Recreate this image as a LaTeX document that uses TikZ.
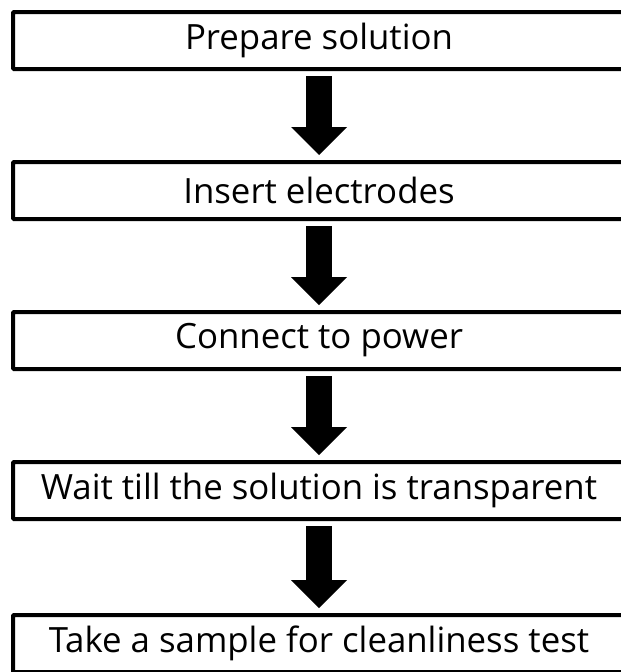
\documentclass[tikz,border=0pt]{standalone}
\usepackage{fontspec}
\setmainfont{Open Sans}
\usetikzlibrary{positioning,arrows.meta}
\begin{document}
\begin{tikzpicture}[
                node distance = 89pt,
                semithick
                ]

                \tikzstyle{stage}=[
                        draw = black,
                        rectangle,
                        line width = 4pt,
                        rounded corners = 1pt,
                        fill = white,
                        minimum width = 612pt,
                        minimum height = 57pt,
                        inner sep = 0pt,
                        font = \fontsize{34.8}{40}\selectfont
                ]

                \tikzstyle{flow}=[
                        draw = black,
                        line width = 26pt,
                        -{Triangle[width=56pt,length=28pt,line width=0pt]},
                        shorten < = 5pt,
                        shorten > = 5pt
                ]

                \useasboundingbox (0,0) rectangle (621pt,-672pt);
                \clip (0,0) rectangle (621pt,-672pt);

                \node[stage] (1) at (319pt,-40.5pt) {Prepare solution};
                \node[stage] (2) [below=of 1] {Insert electrodes};
                \node[stage] (3) [below=of 2] {Connect to power};
                \node[stage] (4) [below=of 3] {Wait till the solution is transparent};
                \node[stage] (5) [below=92pt of 4] {Take a sample for cleanliness test};

                \draw[flow] (1) -- (2);
                \draw[flow] (2) -- (3);
                \draw[flow] (3) -- (4);
                \draw[flow] (4) -- (5);
\end{tikzpicture}
\end{document}
